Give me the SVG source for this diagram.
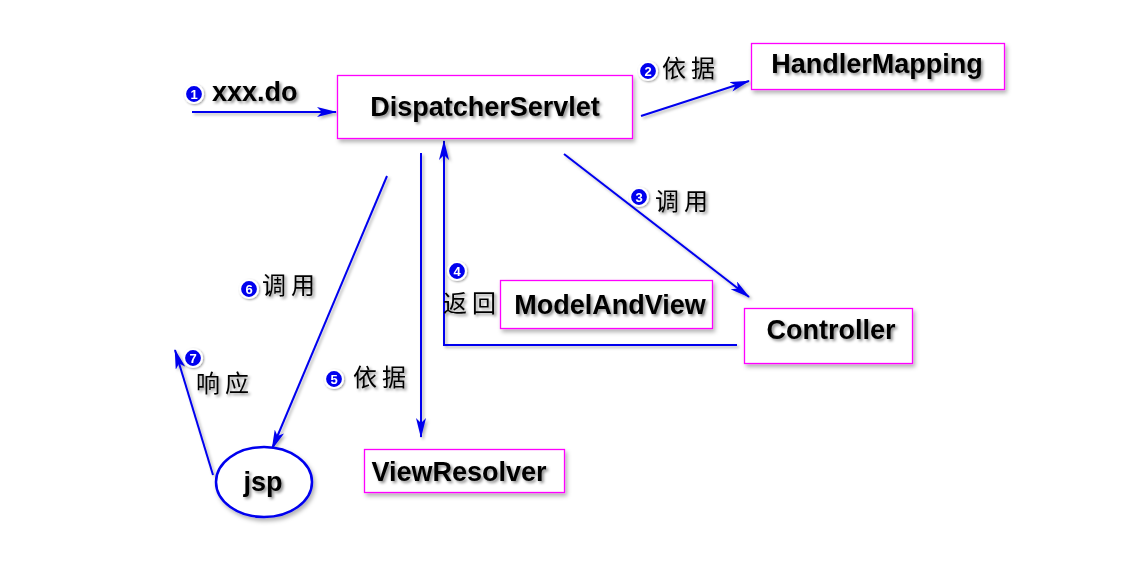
<svg xmlns="http://www.w3.org/2000/svg" width="1144" height="566" viewBox="0 0 1144 566">
<style>
.box{fill:#fff;stroke:#ff00ff;stroke-width:1.3;filter:url(#sh)}
.lbl{font-family:"Liberation Sans",Arial,sans-serif;font-weight:bold;font-size:27px;fill:#000;filter:url(#tsh)}
.cn{font-family:"Noto Sans CJK SC",sans-serif;font-size:24px;fill:#000;letter-spacing:5px;filter:url(#tsh)}
.con{fill:none;stroke:#0000ee;stroke-width:2;marker-end:url(#ah);filter:url(#lsh)}
.num circle{fill:#0000ee;stroke:#fff;stroke-width:2.2}
.num text{font-family:"Liberation Sans",Arial,sans-serif;font-weight:bold;font-size:13px;fill:#fff;text-anchor:middle}
</style>
<defs>
<filter id="sh" x="-20%" y="-20%" width="150%" height="150%"><feDropShadow dx="2" dy="3" stdDeviation="2" flood-color="#000" flood-opacity="0.3"/></filter>
<filter id="lsh" filterUnits="userSpaceOnUse" x="0" y="0" width="1144" height="566"><feDropShadow dx="2" dy="2" stdDeviation="1.5" flood-color="#000" flood-opacity="0.3"/></filter>
<filter id="tsh" x="-20%" y="-30%" width="150%" height="170%"><feDropShadow dx="2" dy="2" stdDeviation="1.5" flood-color="#000" flood-opacity="0.45"/></filter>
<filter id="csh" x="-50%" y="-50%" width="200%" height="200%"><feDropShadow dx="1" dy="1" stdDeviation="1" flood-color="#000" flood-opacity="0.4"/></filter>
<marker id="ah" viewBox="0 0 20 10" refX="19" refY="5" markerWidth="10" markerHeight="5" orient="auto" markerUnits="strokeWidth"><path d="M0,0 L20,5 L0,10 L5,5 z" fill="#0000ee"/></marker>
</defs>
<rect width="1144" height="566" fill="#fff"/>
<g id="connectors">
<path class="con" d="M192,112 L336,112"/>
<path class="con" d="M641,116 L749,81"/>
<path class="con" d="M564,154 L749,297"/>
<path class="con" d="M737,345 L444,345 L444,141"/>
<path class="con" d="M421,153 L421,437"/>
<path class="con" d="M387,176 L272,449"/>
<path class="con" d="M213,475 L175,350"/>
</g>
<g id="DispatcherServlet"><rect class="box" x="337.5" y="75.5" width="295" height="63"/><text class="lbl" x="485" y="116" text-anchor="middle">DispatcherServlet</text></g>
<g id="HandlerMapping"><rect class="box" x="751.5" y="43.5" width="253" height="46"/><text class="lbl" x="877" y="73" text-anchor="middle">HandlerMapping</text></g>
<g id="Controller"><rect class="box" x="744.5" y="308.5" width="168" height="55"/><text class="lbl" x="831" y="339" text-anchor="middle">Controller</text></g>
<g id="ModelAndView"><rect class="box" x="500.5" y="280.5" width="212" height="48"/><text class="lbl" x="610" y="314" text-anchor="middle">ModelAndView</text></g>
<g id="ViewResolver"><rect class="box" x="364.5" y="449.5" width="200" height="43"/><text class="lbl" x="459" y="481" text-anchor="middle">ViewResolver</text></g>
<g id="jsp"><ellipse cx="264" cy="482" rx="48" ry="35" fill="#fff" stroke="#0000ee" stroke-width="2.5" filter="url(#sh)"/><text class="lbl" x="263" y="491" text-anchor="middle">jsp</text></g>
<g id="labels">
<g class="num" filter="url(#csh)"><circle cx="194" cy="94" r="9"/><text x="194" y="98.5">1</text></g>
<text class="lbl" x="212" y="101">xxx.do</text>
<g class="num" filter="url(#csh)"><circle cx="648" cy="71" r="9"/><text x="648" y="75.5">2</text></g>
<text class="cn" x="662" y="77">依据</text>
<g class="num" filter="url(#csh)"><circle cx="639" cy="197" r="9"/><text x="639" y="201.5">3</text></g>
<text class="cn" x="655" y="210">调用</text>
<g class="num" filter="url(#csh)"><circle cx="457" cy="271" r="9"/><text x="457" y="275.5">4</text></g>
<text class="cn" x="443" y="312">返回</text>
<g class="num" filter="url(#csh)"><circle cx="334" cy="379" r="9"/><text x="334" y="383.5">5</text></g>
<text class="cn" x="353" y="386">依据</text>
<g class="num" filter="url(#csh)"><circle cx="249" cy="289" r="9"/><text x="249" y="293.5">6</text></g>
<text class="cn" x="262" y="294">调用</text>
<g class="num" filter="url(#csh)"><circle cx="193" cy="358" r="9"/><text x="193" y="362.5">7</text></g>
<text class="cn" x="196" y="392">响应</text>
</g>
</svg>
